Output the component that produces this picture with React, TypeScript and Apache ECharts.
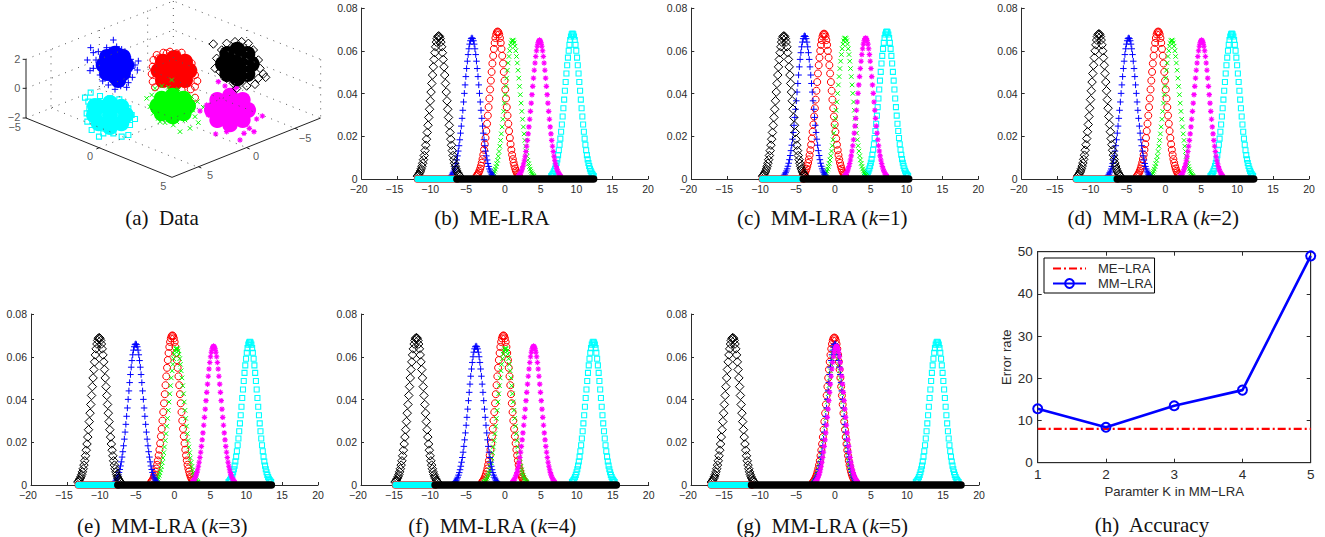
import React, { useEffect, useRef } from "react";
import * as echarts from "echarts";

const bellOffsets = [0, 0.106, 0.212, 0.318, 0.424, 0.53, 0.636, 0.742, 0.848, 0.954, 1.06, 1.166, 1.272, 1.378, 1.484, 1.59, 1.696, 1.802, 1.908, 2.014, 2.12, 2.226, 2.332, 2.438, 2.544, 2.65, 2.756, 2.862, 2.968];
const bellHeights = [1, 0.995, 0.98, 0.956, 0.923, 0.882, 0.835, 0.783, 0.726, 0.667, 0.607, 0.546, 0.487, 0.43, 0.375, 0.325, 0.278, 0.236, 0.198, 0.164, 0.135, 0.11, 0.089, 0.071, 0.056, 0.044, 0.034, 0.026, 0.02];

// Panel plot boxes (b)..(g): left, right, top, bottom
const curvePanelBoxes = [
  [361.7, 648, 8, 179], [691.3, 978.3, 8, 179], [1021.7, 1309, 8, 179],
  [31, 318, 314, 485], [361, 648.7, 314, 485], [691, 979, 314, 485],
];
// Order of values in each row: black, blue, red, green, magenta, cyan
const peakCentres = [
  [-9.25, -4.6, -1, 1.1, 4.85, 9.45],
  [-7.1, -4.2, -1.5, 1.45, 4.3, 7.25],
  [-9.25, -5.1, -1, 0.9, 5.05, 9.25],
  [-10.5, -5.4, -0.3, 0.3, 5.45, 10.5],
  [-12.3, -4, -0.2, 0.1, 4, 12.3],
  [-14.2, 0, -0.1, 0, 0.2, 14.2],
];
const peakHeights = [
  [0.067, 0.066, 0.069, 0.065, 0.065, 0.068],
  [0.067, 0.067, 0.068, 0.066, 0.066, 0.069],
  [0.068, 0.066, 0.069, 0.065, 0.065, 0.068],
  [0.069, 0.066, 0.07, 0.064, 0.065, 0.067],
  [0.069, 0.065, 0.07, 0.064, 0.065, 0.067],
  [0.069, 0.066, 0.069, 0.064, 0.065, 0.067],
];
// left end, where the black bell rejoins the baseline, right end
const baselineStops = [
  [-12.2, -6.7, 12.4], [-10.1, -4.4, 10.3], [-12.4, -6.7, 12.3],
  [-13.4, -7.9, 13.5], [-15.2, -9.7, 15.5], [-17.2, -11.6, 17.5],
];

// Panel (h)
const kValues = [1, 2, 3, 4, 5];
const meLra = [8, 8, 8, 8, 8];
const mmLra = [12.8, 8.4, 13.5, 17.2, 49];

// Panel (a): positions measured on a 1020 x 705 view of the panel
const cyanCore = [[330, 309], [364, 320], [378, 345], [364, 370], [330, 381], [296, 370], [282, 345], [296, 320], [330, 345], [285, 318]];
const cyanPoints = [[272, 278], [255, 293], [265, 305], [300, 288], [330, 295], [358, 298], [385, 325], [395, 345], [405, 357], [390, 375], [385, 405], [365, 410], [340, 400], [297, 410], [275, 390], [262, 365], [260, 340], [310, 400], [268, 325]];
const blueCore = [[345, 161], [369, 171], [379, 195], [369, 219], [345, 229], [321, 219], [311, 195], [321, 171], [345, 195], [355, 240]];
const bluePoints = [[340, 120], [272, 143], [280, 158], [262, 180], [295, 155], [320, 143], [350, 140], [375, 155], [392, 178], [415, 183], [405, 195], [412, 210], [397, 232], [385, 248], [380, 262], [362, 258], [345, 268], [325, 255], [308, 243], [300, 225], [270, 212], [280, 205], [288, 180], [330, 150], [365, 148], [395, 205]];
const redCore = [[522, 174], [555, 185], [568, 212], [555, 240], [522, 250], [489, 240], [476, 212], [489, 185], [522, 212], [500, 212], [545, 212]];
const redPoints = [[460, 180], [458, 200], [455, 222], [470, 165], [490, 158], [510, 155], [530, 160], [545, 158], [565, 188], [575, 190], [585, 225], [592, 243], [585, 260], [572, 268], [458, 245], [465, 262], [520, 268], [545, 270], [585, 293], [475, 175], [575, 210], [500, 160]];
const greenCore = [[518, 287], [551, 296], [564, 318], [551, 340], [518, 349], [485, 340], [472, 318], [485, 296], [518, 318]];
const greenPoints = [[515, 240], [485, 258], [465, 265], [440, 295], [455, 285], [450, 320], [460, 340], [475, 355], [495, 368], [520, 375], [540, 395], [570, 385], [595, 368], [585, 350], [578, 330], [592, 305], [610, 322], [575, 290], [505, 262], [535, 268], [465, 305], [530, 365], [555, 360], [480, 365]];
const magentaCore = [[690, 287], [728, 300], [744, 330], [728, 360], [690, 373], [652, 360], [636, 330], [652, 300], [690, 330], [690, 308], [690, 352], [662, 330], [716, 330]];
const magentaPoints = [[655, 245], [675, 258], [700, 270], [725, 290], [600, 333], [620, 315], [625, 345], [650, 375], [647, 402], [680, 395], [720, 420], [732, 400], [748, 385], [762, 395], [770, 357], [787, 348], [760, 330], [710, 262], [740, 310]];
const blackCore = [[712, 149], [742, 162], [755, 192], [742, 222], [712, 235], [682, 222], [669, 192], [682, 162], [712, 192]];
const blackPoints = [[640, 132], [705, 125], [745, 130], [760, 150], [775, 180], [780, 205], [797, 232], [790, 222], [775, 235], [765, 253], [740, 258], [710, 265], [700, 250], [680, 235], [660, 215], [645, 205], [650, 175], [665, 150], [680, 130], [725, 125]];

const boxDotted = [
  [[78, 178], [520, 3], [962, 178]],
  [[78, 265], [520, 90], [962, 265]],
  [[78, 354], [520, 178], [962, 354]],
  [[153, 148], [153, 324]], [[298, 90], [298, 266]], [[443, 32], [443, 208]], [[520, 3], [520, 178]], [[740, 90], [740, 266]], [[962, 178], [962, 354]],
  [[153, 324], [595, 502]], [[298, 266], [740, 443]], [[443, 208], [885, 385]],
  [[298, 443], [740, 266]],
];
const boxSolid = [
  [[78, 178], [78, 354], [516, 532], [962, 354]],
  [[68, 178], [78, 178]], [[68, 265], [78, 265]], [[68, 354], [78, 354]],
  [[298, 443], [289, 447]], [[740, 443], [749, 447]], [[595, 500], [604, 504]], [[885, 385], [894, 389]],
];
const boxLabels: [number, number, string][] = [
  [52, 176, "2"], [52, 265, "0"], [42, 352, "\u22122"], [44, 382, "\u22125"], [270, 468, "0"], [490, 558, "5"], [915, 415, "\u22125"], [768, 468, "0"], [630, 525, "5"],
];

const captions: [number, number, string][] = [
  [162, 218, "{n|(a)  Data}"],
  [492, 218, "{n|(b)  ME-LRA}"],
  [822, 218, "{n|(c)  MM-LRA (}{i|k}{n|=1)}"],
  [1153, 218, "{n|(d)  MM-LRA (}{i|k}{n|=2)}"],
  [162, 526, "{n|(e)  MM-LRA (}{i|k}{n|=3)}"],
  [492, 526, "{n|(f)  MM-LRA (}{i|k}{n|=4)}"],
  [822, 526, "{n|(g)  MM-LRA (}{i|k}{n|=5)}"],
  [1152, 525, "{n|(h)  Accuracy}"],
];

const PLUS = "path://M0 -5V5M-5 0H5";
const CROSS = "path://M-5 -5L5 5M-5 5L5 -5";
const STAR = "path://M0 -5V5M-5 0H5M-3.5 -3.5L3.5 3.5M-3.5 3.5L3.5 -3.5";
const SANS = "Liberation Sans";
const INK = "#2b2b2b";

// Same order as the rows above: black, blue, red, green, magenta, cyan
const styles = [
  { color: "#000000", symbol: "diamond", size: 8.5, stroke: 1 },
  { color: "#0000ff", symbol: PLUS, size: 6.5, stroke: 1 },
  { color: "#ff0000", symbol: "circle", size: 7, stroke: 1 },
  { color: "#00ff00", symbol: CROSS, size: 4.5, stroke: 1 },
  { color: "#ff00ff", symbol: STAR, size: 5.5, stroke: 1.1 },
  { color: "#00ffff", symbol: "rect", size: 5, stroke: 1.1 },
];
const drawOrder = [5, 2, 3, 1, 4, 0];

function bell(centre: number, peak: number) {
  const pts: number[][] = [];
  for (let i = bellOffsets.length - 1; i > 0; i--) pts.push([centre - bellOffsets[i], peak * bellHeights[i]]);
  bellOffsets.forEach((d, i) => pts.push([centre + d, peak * bellHeights[i]]));
  return pts;
}

function joinSegments(segments: number[][][]) {
  const out: (number | null)[][] = [];
  segments.forEach((s) => {
    s.forEach((p) => out.push(p));
    out.push([null, null]);
  });
  return out;
}

function buildOption() {
  const grid: any[] = [{ left: 0, top: 0, width: 340, height: 235 }];
  const xAxis: any[] = [{ gridIndex: 0, type: "value", min: 0, max: 1020, show: false }];
  const yAxis: any[] = [{ gridIndex: 0, type: "value", min: 0, max: 705, inverse: true, show: false }];
  const series: any[] = [];

  // Panel (a)
  series.push({ type: "line", name: "box", xAxisIndex: 0, yAxisIndex: 0, data: joinSegments(boxDotted), symbol: "none", silent: true, lineStyle: { color: "#555", width: 1, type: [1, 6] } });
  series.push({ type: "line", name: "axes", xAxisIndex: 0, yAxisIndex: 0, data: joinSegments(boxSolid), symbol: "none", silent: true, lineStyle: { color: "#222", width: 1 } });
  series.push({
    type: "scatter", name: "ticks", xAxisIndex: 0, yAxisIndex: 0, symbolSize: 0, progressive: 0,
    data: boxLabels.map(([x, y, t]) => ({ value: [x, y], name: t })),
    label: { show: true, position: "inside", formatter: "{b}", color: INK, fontFamily: SANS, fontSize: 11 },
  });
  const clusters: [number[][], number[][], number][] = [
    [cyanCore, cyanPoints, 5], [blueCore, bluePoints, 1], [redCore, redPoints, 2],
    [greenCore, greenPoints, 3], [magentaCore, magentaPoints, 4], [blackCore, blackPoints, 0],
  ];
  clusters.forEach(([core, pts, s]) => {
    const st = styles[s];
    series.push({ type: "scatter", name: "core", xAxisIndex: 0, yAxisIndex: 0, data: core, symbol: "circle", symbolSize: 16, progressive: 0, clip: false, itemStyle: { color: st.color, opacity: 1 } });
    series.push({ type: "scatter", name: "pts", xAxisIndex: 0, yAxisIndex: 0, data: pts, symbol: st.symbol, symbolSize: st.size, progressive: 0, clip: false, itemStyle: { color: "transparent", borderColor: st.color, borderWidth: st.stroke, opacity: 1 } });
  });

  // Panels (b)..(g)
  curvePanelBoxes.forEach((box, p) => {
    const g = p + 1;
    grid.push({ left: box[0], width: box[1] - box[0], top: box[2], height: box[3] - box[2] });
    xAxis.push({
      gridIndex: g, type: "value", min: -20, max: 20, interval: 5,
      axisLine: { lineStyle: { color: INK, width: 1 }, onZero: false },
      axisTick: { inside: true, length: 3, lineStyle: { color: INK } },
      axisLabel: {
        color: INK, fontFamily: SANS, fontSize: 10.5, margin: 4,
        formatter: (v: number) => (v < 0 ? "{neg|\u2212" + Math.abs(v) + "}" : String(v)),
        rich: { neg: { color: INK, fontFamily: SANS, fontSize: 10.5, padding: [0, 6, 0, 0] } },
      },
      splitLine: { show: false },
    });
    yAxis.push({
      gridIndex: g, type: "value", min: 0, max: 0.08, interval: 0.02,
      axisLine: { show: true, lineStyle: { color: INK, width: 1 }, onZero: false },
      axisTick: { show: true, inside: true, length: 3, lineStyle: { color: INK } },
      axisLabel: { color: INK, fontFamily: SANS, fontSize: 10.5, margin: 4, formatter: (v: number) => (v === 0 ? "0" : v.toFixed(2)) },
      splitLine: { show: false },
    });
    const [lo, join, hi] = baselineStops[p];
    const band = (name: string, a: number, b: number, color: string, width: number) => ({
      type: "line", name, xAxisIndex: g, yAxisIndex: g, symbol: "none", clip: false, silent: true,
      data: [[a, 0], [b, 0]], lineStyle: { color, width, cap: "round" },
    });
    series.push(band("redBase", lo, join, "#ff0000", 7.5));
    series.push(band("cyanBase", lo, join, "#00ffff", 6.5));
    drawOrder.forEach((s) => {
      const st = styles[s];
      series.push({
        type: "scatter", name: "c" + s, xAxisIndex: g, yAxisIndex: g, clip: false, progressive: 0, silent: true,
        data: bell(peakCentres[p][s], peakHeights[p][s]),
        symbol: st.symbol, symbolSize: st.size,
        itemStyle: { color: "transparent", borderColor: st.color, borderWidth: st.stroke, opacity: 1 },
      });
    });
    series.push(band("blackBase", join, hi, "#000000", 7.5));
  });

  // Panel (h)
  const h = 7;
  grid.push({ left: 1037.7, width: 273, top: 251.7, height: 211, show: true, borderColor: INK, borderWidth: 1, backgroundColor: "transparent" });
  const hLine = { lineStyle: { color: INK, width: 1 }, onZero: false };
  const hTick = { show: true, inside: true, length: 4, lineStyle: { color: INK } };
  xAxis.push({
    gridIndex: h, type: "value", min: 1, max: 5, interval: 1, axisLine: hLine, axisTick: hTick, splitLine: { show: false },
    axisLabel: { color: INK, fontFamily: SANS, fontSize: 13.5, margin: 5 },
    name: "Paramter K in MM\u2212LRA", nameLocation: "middle", nameGap: 22, nameTextStyle: { color: INK, fontFamily: SANS, fontSize: 13.2 },
  });
  yAxis.push({
    gridIndex: h, type: "value", min: 0, max: 50, interval: 10, axisLine: { show: true, ...hLine }, axisTick: hTick, splitLine: { show: false },
    axisLabel: { color: INK, fontFamily: SANS, fontSize: 13.5, margin: 5 },
    name: "Error rate", nameLocation: "middle", nameGap: 25, nameTextStyle: { color: INK, fontFamily: SANS, fontSize: 13.2 },
  });
  xAxis.push({ gridIndex: h, type: "value", position: "top", min: 1, max: 5, interval: 1, axisLine: hLine, axisTick: hTick, axisLabel: { show: false }, splitLine: { show: false } });
  yAxis.push({ gridIndex: h, type: "value", position: "right", min: 0, max: 50, interval: 10, axisLine: { show: true, ...hLine }, axisTick: hTick, axisLabel: { show: false }, splitLine: { show: false } });
  series.push({
    type: "line", name: "ME\u2212LRA", xAxisIndex: h, yAxisIndex: h, clip: false, symbol: "none",
    data: kValues.map((k, i) => [k, meLra[i]]),
    itemStyle: { color: "transparent" }, lineStyle: { color: "#ff0000", width: 2.2, type: [8, 3, 2, 3] },
  });
  series.push({
    type: "line", name: "MM\u2212LRA", xAxisIndex: h, yAxisIndex: h, clip: false, symbol: "circle", symbolSize: 9,
    data: kValues.map((k, i) => [k, mmLra[i]]),
    itemStyle: { color: "transparent", borderColor: "#0000ff", borderWidth: 2 }, lineStyle: { color: "#0000ff", width: 2.6 },
  });

  return {
    animation: false,
    backgroundColor: "#ffffff",
    tooltip: { show: false },
    grid, xAxis, yAxis, series,
    legend: {
      show: true, orient: "vertical", left: 1044, top: 258, data: ["ME\u2212LRA", "MM\u2212LRA"],
      backgroundColor: "#fff", borderColor: "#000", borderWidth: 1, borderRadius: 0,
      padding: [4, 2, 3, 8], itemWidth: 33, itemHeight: 11, itemGap: 2,
      textStyle: { color: INK, fontFamily: SANS, fontSize: 13, padding: [0, 0, 0, 7] },
    },
    graphic: captions.map(([x, y, t]) => ({
      type: "text", x, y, silent: true,
      style: {
        text: t, align: "center", verticalAlign: "middle", fill: "#111",
        rich: {
          n: { fontFamily: "Liberation Serif", fontSize: 21, fill: "#111", color: "#111" },
          i: { fontFamily: "Liberation Serif", fontSize: 21, fontStyle: "italic", fill: "#111", color: "#111" },
        },
      },
    })),
  };
}

export default function App() {
  const ref = useRef<HTMLDivElement>(null);
  useEffect(() => {
    const chart = echarts.init(ref.current!, undefined, { renderer: "svg" });
    chart.setOption(buildOption() as any);
    return () => chart.dispose();
  }, []);
  return <div ref={ref} style={{ position: "absolute", left: 0, top: 0, width: 1325, height: 537 }} />;
}
